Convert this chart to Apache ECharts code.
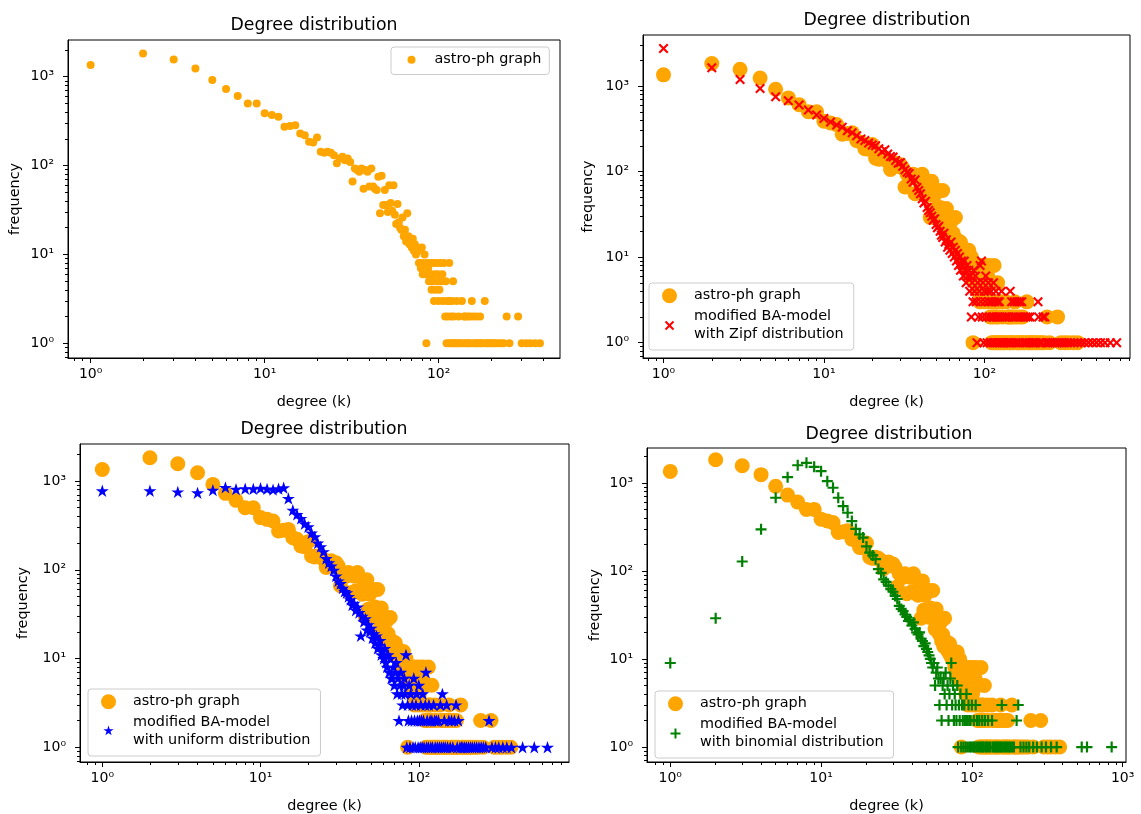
<!DOCTYPE html>
<html><head><meta charset="utf-8">
<script src="https://cdn.jsdelivr.net/npm/echarts@6.0.0/dist/echarts.min.js"></script>
<style>html,body{margin:0;padding:0;background:#fff;} #c{width:1141px;height:814px;}</style>
</head><body><div id="c"></div>
<script>
// ---------- data: [degree k, frequency] ----------
const astro = [[1,1350],[2,1830],[3,1565],[4,1240],[5,916],[6,726],[7,605],[8,500],[9,500],[10,387],
[11,370],[12,354],[13,273],[14,278],[15,285],[16,230],[17,220],[18,185],[19,182],[20,207],
[21,143],[22,139],[23,143],[24,139],[25,131],[26,106],[27,120],[28,126],[29,115],[30,120],
[31,110],[32,66],[33,93],[34,89],[35,85],[36,93],[37,55],[38,89],[39,85],[40,58],
[41,93],[42,58],[43,55],[44,53],[45,75],[46,29],[47,77],[48,36],[49,53],[50,36],
[51,30],[52,60],[53,38],[54,31],[55,60],[56,28],[57,22],[58,37],[59,23],[60,20],
[61,19],[62,26],[63,16],[64,19],[65,14],[66,29],[67,16],[68,13],[69,14],[70,12],
[71,15],[72,11],[73,13],[74,10],[75,12],[76,11],[77,8],[78,8],[79,7],[80,12],
[81,6],[82,8],[83,10],[84,6],[85,1],[86,8],[87,7],[88,5],[89,8],[90,6],
[91,4],[92,5],[93,8],[94,3],[95,6],[96,4],[97,8],[98,5],[99,6],[100,3],
[101,4],[102,8],[104,5],[105,6],[106,3],[107,8],[109,2],[110,5],[111,1],[112,3],
[113,2],[114,1],[115,8],[116,3],[117,1],[118,2],[119,3],[120,1],[121,5],[122,2],
[123,1],[125,1],[127,3],[128,1],[130,2],[131,1],[133,1],[136,3],[138,1],[140,2],
[142,2],[143,1],[145,1],[147,2],[149,1],[151,2],[152,1],[155,3],[158,2],[160,1],
[162,1],[165,2],[167,1],[170,1],[173,2],[175,1],[178,1],[184,3],[187,1],[190,1],
[195,1],[200,1],[206,1],[212,1],[220,1],[228,1],[236,1],[246,2],[255,1],[286,2],
[300,1],[318,1],[335,1],[358,1],[382,1]];

const zipf = [[1,2750],[2,1630],[3,1195],[4,937],[5,748],[6,671],[7,598],[8,523],[9,457],[10,418],
[11,380],[12,350],[13,330],[14,300],[15,285],[16,262],[17,240],[18,230],[19,215],[20,205],
[21,200],[22,185],[23,170],[24,180],[25,160],[26,150],[27,148],[28,135],[29,125],[30,128],
[31,115],[32,105],[33,98],[34,95],[35,82],[36,75],[37,80],[38,65],[39,60],[40,55],
[41,48],[42,43],[43,45],[44,38],[45,35],[46,33],[47,30],[48,27],[49,28],[50,24],
[51,22],[52,23],[53,20],[54,18],[55,17],[56,19],[57,15],[58,16],[59,13],[60,14],
[61,12],[62,15],[63,11],[64,13],[65,10],[66,12],[67,9],[68,11],[69,8],[70,10],
[71,7],[72,9],[73,8],[74,6],[75,9],[76,7],[77,5],[78,8],[79,6],[80,7],
[81,4],[82,6],[83,2],[84,5],[85,3],[86,7],[87,4],[88,6],[89,3],[90,1],
[91,5],[92,2],[93,4],[94,8],[95,3],[96,9],[97,2],[98,5],[99,1],[100,4],
[101,3],[102,6],[103,2],[104,1],[105,4],[106,5],[107,3],[108,2],[109,1],[110,4],
[111,3],[112,2],[113,1],[114,5],[115,2],[116,3],[117,1],[118,4],[119,2],[120,1],
[121,3],[122,2],[123,1],[124,3],[125,2],[126,1],[128,4],[129,1],[130,2],[132,1],
[134,2],[136,1],[138,2],[140,1],[142,2],[144,1],[145,4],[147,1],[148,3],[150,2],
[152,1],[154,3],[156,2],[158,1],[160,3],[162,2],[164,1],[166,3],[168,2],[171,3],
[173,1],[176,2],[179,1],[182,2],[185,1],[188,2],[191,1],[193,2],[197,1],[201,1],
[206,1],[211,1],[216,3],[218,2],[222,1],[228,1],[232,2],[238,2],[242,1],[250,1],
[258,1],[266,1],[275,1],[284,1],[294,1],[305,1],[316,1],[330,1],[345,1],[362,1],
[380,1],[400,1],[422,1],[446,1],[472,1],[500,1],[530,1],[565,1],[610,1],[668,1]];

const uniform = [[1,776],[2,776],[3,755],[4,736],[5,790],[6,848],[7,810],[8,820],[9,815],[10,830],
[11,815],[12,800],[13,820],[14,840],[15,637],[16,470],[17,420],[18,379],[19,330],[20,305],
[21,260],[22,235],[23,200],[24,182],[25,160],[26,134],[27,120],[28,110],[29,99],[30,85],
[31,75],[32,70],[33,62],[34,57],[35,55],[36,50],[37,46],[38,40],[39,42],[40,35],
[41,38],[42,33],[43,18],[44,30],[45,26],[46,28],[47,21],[48,24],[49,20],[50,22],
[51,17],[52,19],[53,15],[54,18],[55,13],[56,14],[57,16],[58,11],[59,12],[60,10],
[61,13],[62,9],[63,8],[64,11],[65,7],[66,10],[67,6],[68,6],[69,8],[70,5],
[71,7],[72,9],[73,4],[74,6],[75,2],[76,5],[77,7],[78,4],[79,3],[80,5],
[81,6],[82,4],[83,11],[84,1],[85,3],[86,2],[87,5],[88,1],[89,4],[90,2],
[91,3],[92,1],[93,6],[94,2],[95,1],[96,3],[97,4],[98,2],[99,1],[100,5],
[101,2],[102,1],[103,3],[104,2],[105,1],[106,4],[107,2],[108,1],[110,3],[111,7],
[112,1],[113,2],[115,1],[116,3],[118,2],[119,1],[121,2],[122,1],[124,3],[126,2],
[127,1],[129,2],[131,1],[133,2],[135,1],[137,3],[139,1],[141,4],[143,1],[145,2],
[147,1],[150,3],[152,1],[155,2],[158,1],[161,2],[164,1],[168,2],[172,3],[175,1],
[178,2],[182,1],[186,1],[190,1],[195,1],[200,1],[206,1],[212,1],[218,1],[225,1],
[232,1],[240,1],[248,1],[256,1],[265,1],[278,2],[290,1],[305,1],[320,1],[340,1],
[360,1],[385,1],[453,1],[537,1],[651,1]];

const binomial = [[1,9],[2,29],[3,128],[4,297],[5,678],[6,1160],[7,1585],[8,1690],[9,1520],[10,1357],
[11,1045],[12,880],[13,678],[14,545],[15,458],[16,368],[17,300],[18,260],[19,239],[20,190],
[21,161],[22,150],[23,136],[24,105],[25,95],[26,80],[27,75],[28,68],[29,62],[30,58],
[31,52],[32,48],[33,40],[34,37],[35,35],[36,32],[37,30],[38,27],[39,28],[40,24],
[41,26],[42,22],[43,20],[44,19],[45,20],[46,17],[47,16],[48,14],[49,15],[50,13],
[51,12],[52,11],[53,10],[54,9],[55,8],[56,9],[57,5],[58,7],[59,8],[60,6],
[61,3],[62,6],[63,2],[64,5],[65,6],[66,4],[67,7],[68,3],[69,5],[70,2],
[71,4],[72,6],[73,9],[74,3],[75,5],[76,2],[77,4],[78,3],[79,2],[80,5],
[81,1],[82,3],[83,2],[84,4],[85,1],[86,3],[87,2],[88,1],[89,3],[90,2],
[91,1],[92,4],[93,2],[94,1],[95,3],[96,2],[97,1],[98,2],[99,1],[100,3],
[102,1],[103,2],[104,1],[106,3],[107,1],[108,2],[110,1],[112,2],[113,1],[115,1],
[117,2],[118,1],[120,1],[122,2],[124,1],[126,1],[128,2],[130,1],[133,1],[136,2],
[138,1],[141,1],[144,1],[147,1],[150,1],[153,1],[156,1],[158,3],[160,1],[164,1],
[168,1],[172,1],[176,1],[180,1],[185,1],[190,1],[198,2],[203,3],[210,1],[220,1],
[230,1],[240,1],[255,1],[270,1],[290,1],[310,1],[335,1],[365,1],[535,1],[580,1],[845,1]];

const titleText = 'Degree distribution';
const xName = 'degree (k)';
const yName = 'frequency';
const legendNames = {
  astro1: 'astro-ph graph', astro2: 'astro-ph graph', astro3: 'astro-ph graph', astro4: 'astro-ph graph',
  zipf: 'modified BA-model\nwith Zipf distribution',
  uniform: 'modified BA-model\nwith uniform distribution',
  binomial: 'modified BA-model\nwith binomial distribution'
};
const majorValues = [1, 10, 100, 1000];
const tickLabels = ['10\u2070', '10\u00b9', '10\u00b2', '10\u00b3'];

// ---------- styling ----------
const F = 'DejaVu Sans';
const ORANGE = '#FFA500', RED = '#FF0000', BLUE = '#0000FF', GREEN = '#008000';
const X_PATH = 'M0,1.5 L1.5,0 L5,3.5 L8.5,0 L10,1.5 L6.5,5 L10,8.5 L8.5,10 L5,6.5 L1.5,10 L0,8.5 L3.5,5 Z';
const PLUS_PATH = 'M4,0 L6,0 L6,4 L10,4 L10,6 L6,6 L6,10 L4,10 L4,6 L0,6 L0,4 L4,4 Z';
const STAR_PATH = 'M100,0 L122.45,69.1 L195.1,69.1 L136.3,111.8 L158.8,180.9 L100,138.2 L41.2,180.9 L63.7,111.8 L4.9,69.1 L77.55,69.1 Z';

const minorValues = [];
[0.1, 1, 10, 100, 1000].forEach(d => { for (let m = 2; m <= 9; m++) minorValues.push(+(m * d).toPrecision(3)); });

function labelOf(v) {
  const e = Math.round(Math.log10(v));
  return tickLabels[e] !== undefined ? tickLabels[e] : '';
}

const panels = [
  { grid: {left: 68, top: 40, width: 492, height: 318}, x: [0.741, 498], y: [0.684, 2588], yGap: 46,
    title: {left: 314, top: 16}, legend: {left: 391, top: 47} },
  { grid: {left: 643, top: 35, width: 487, height: 323}, x: [0.745, 809], y: [0.662, 3945], yGap: 48,
    title: {left: 887, top: 11}, legend: {left: 649, top: 283} },
  { grid: {left: 80, top: 444, width: 489, height: 318}, x: [0.723, 890], y: [0.682, 2612], yGap: 50,
    title: {left: 324, top: 420}, legend: {left: 88, top: 689} },
  { grid: {left: 647, top: 448, width: 479, height: 315}, x: [0.701, 1052], y: [0.676, 2489], yGap: 45,
    title: {left: 889, top: 425}, legend: {left: 655, top: 691} }
];

const grids = [], xAxes = [], yAxes = [], titles = [], legends = [];
const axisTextStyle = {fontSize: 14.4, color: '#000', fontFamily: F};
panels.forEach((p, i) => {
  grids.push(Object.assign({show: true, borderColor: '#000', borderWidth: 1, backgroundColor: 'transparent'}, p.grid));
  titles.push({text: titleText, left: p.title.left, top: p.title.top, textAlign: 'center', padding: 0,
    textStyle: {fontSize: 17.3, fontWeight: 'normal', color: '#000', fontFamily: F, lineHeight: 20}});
  const common = (range) => ({type: 'log', logBase: 10, gridIndex: i, min: range[0], max: range[1],
    splitLine: {show: false}, minorTick: {show: false}, minorSplitLine: {show: false}});
  xAxes.push(Object.assign(common(p.x), {position: 'bottom',
    name: xName, nameLocation: 'middle', nameGap: 37, nameTextStyle: axisTextStyle,
    axisLine: {show: true, onZero: false, lineStyle: {color: '#000', width: 1}},
    axisTick: {show: true, length: 5, customValues: majorValues, lineStyle: {color: '#000', width: 1}},
    axisLabel: {show: true, customValues: majorValues, formatter: labelOf, fontSize: 14, color: '#000', fontFamily: F, margin: 9}}));
  xAxes.push(Object.assign(common(p.x), {position: 'bottom',
    axisLine: {show: false}, axisLabel: {show: false},
    axisTick: {show: true, length: 3, customValues: minorValues, lineStyle: {color: '#000', width: 1}}}));
  yAxes.push(Object.assign(common(p.y), {position: 'left',
    name: yName, nameLocation: 'middle', nameGap: p.yGap, nameRotate: 90, nameTextStyle: axisTextStyle,
    axisLine: {show: true, onZero: false, lineStyle: {color: '#000', width: 1}},
    axisTick: {show: true, length: 5, customValues: majorValues, lineStyle: {color: '#000', width: 1}},
    axisLabel: {show: true, customValues: majorValues, formatter: labelOf, fontSize: 14, color: '#000', fontFamily: F, margin: 14}}));
  yAxes.push(Object.assign(common(p.y), {position: 'left',
    axisLine: {show: false}, axisLabel: {show: false},
    axisTick: {show: true, length: 3, customValues: minorValues, lineStyle: {color: '#000', width: 1}}}));
});

function scatter(name, data, panel, symbol, size, color) {
  return {type: 'scatter', name: name, data: data, xAxisIndex: panel * 2, yAxisIndex: panel * 2,
    symbol: symbol, symbolSize: size, symbolKeepAspect: true, silent: true,
    itemStyle: {color: color, opacity: 1}, emphasis: {disabled: true}};
}
const series = [
  scatter('astro1', astro, 0, 'circle', 8, ORANGE),
  scatter('astro2', astro, 1, 'circle', 15, ORANGE),
  scatter('zipf', zipf, 1, 'path://' + X_PATH, 10, RED),
  scatter('astro3', astro, 2, 'circle', 15, ORANGE),
  scatter('uniform', uniform, 2, 'path://' + STAR_PATH, 13, BLUE),
  scatter('astro4', astro, 3, 'circle', 15, ORANGE),
  scatter('binomial', binomial, 3, 'path://' + PLUS_PATH, 11, GREEN)
];

const legendBase = {orient: 'vertical', selectedMode: false, itemWidth: 39, itemHeight: 15, itemGap: 3.5,
  padding: [4, 10, 7, 13], backgroundColor: 'rgba(255,255,255,0.8)', borderColor: '#cccccc', borderWidth: 1, borderRadius: 3,
  formatter: n => legendNames[n],
  textStyle: {fontSize: 14.4, fontFamily: F, color: '#000', lineHeight: 17.5}};
legends.push(Object.assign({}, legendBase, panels[0].legend, {itemHeight: 8, itemWidth: 36, padding: [4, 8, 6, 16.5],
  data: [{name: 'astro1', icon: 'circle'}]}));
const small = (path, pad) => 'path://M' + (-pad) + ',' + (-pad) + ' M' + (10 + pad) + ',' + (10 + pad) + ' ' + path;
legends.push(Object.assign({}, legendBase, panels[1].legend, {data: [{name: 'astro2', icon: 'circle'},
  {name: 'zipf', icon: small(X_PATH, 3)}]}));
legends.push(Object.assign({}, legendBase, panels[2].legend, {data: [{name: 'astro3', icon: 'circle'},
  {name: 'uniform', icon: 'path://M-40,-30 M240,250 ' + STAR_PATH}]}));
legends.push(Object.assign({}, legendBase, panels[3].legend, {data: [{name: 'astro4', icon: 'circle'},
  {name: 'binomial', icon: small(PLUS_PATH, 2.5)}]}));

const chart = echarts.init(document.getElementById('c'), null, {renderer: 'canvas'});
chart.setOption({
  animation: false,
  backgroundColor: '#ffffff',
  textStyle: {fontFamily: F},
  title: titles, grid: grids, xAxis: xAxes, yAxis: yAxes, legend: legends, series: series
});
</script></body></html>
